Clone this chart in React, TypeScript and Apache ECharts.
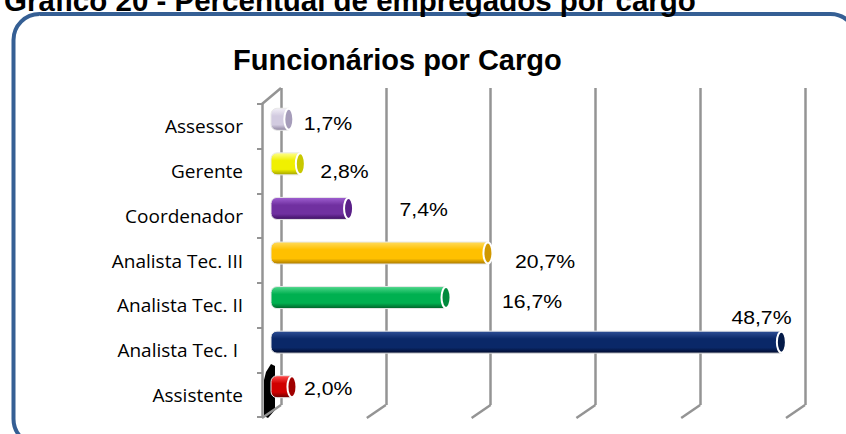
import React, { useEffect, useRef } from "react";
import * as echarts from "echarts";

const heading = "Gráfico 20 - Percentual de empregados por cargo";
const chartTitle = "Funcionários por Cargo";
const categories = [
  "Assessor",
  "Gerente",
  "Coordenador",
  "Analista Tec. III",
  "Analista Tec. II",
  "Analista Tec. I ",
  "Assistente",
];
const values = [1.7, 2.8, 7.4, 20.7, 16.7, 48.7, 2.0];
const gridTicks = [0, 10, 20, 30, 40, 50];
// [light, base, dark, cap]
const palette = [
  ["#f2eff7", "#d2cbe0", "#8d849e", "#a69dba"],
  ["#ffff90", "#f0f000", "#a0a000", "#c8c800"],
  ["#a060d2", "#7030a0", "#3c0e60", "#5a2088"],
  ["#ffdc60", "#ffc000", "#a87800", "#d09800"],
  ["#50d88c", "#00b050", "#006028", "#008a3c"],
  ["#2e4f96", "#0a2868", "#000a2c", "#041a48"],
  ["#ff5050", "#d00000", "#6a0000", "#a00000"],
];
const labelOffsets = [
  [15, 4],
  [20, 8],
  [51, 1],
  [27, 8],
  [56, 4],
  [-50, -25],
  [12, 2],
];

const fmt = (v: number) => v.toFixed(1).replace(".", ",") + "%";

export default function App() {
  const ref = useRef<HTMLDivElement>(null);
  useEffect(() => {
    if (!ref.current) return;
    const chart = echarts.init(ref.current, null, { renderer: "svg" });
    const option: any = {
      animation: false,
      backgroundColor: "#ffffff",
      title: {
        text: chartTitle,
        left: 228,
        top: 40,
        textStyle: {
          fontFamily: '"Liberation Sans", Arial, sans-serif',
          fontWeight: "bold",
          fontSize: 29,
          color: "#000",
        },
      },
      graphic: [
        {
          type: "rect",
          z: -10,
          shape: { x: 13.5, y: 14, width: 843, height: 431, r: 26 },
          style: { fill: "none", stroke: "#355f94", lineWidth: 4 },
        },
        {
          type: "text",
          x: 4,
          y: 0,
          style: {
            text: heading,
            fill: "#000",
            font: 'bold 29.5px "Liberation Sans", Arial, sans-serif',
            verticalAlign: "middle",
          },
        },
        {
          type: "polygon",
          z: 1,
          shape: {
            points: [
              [266, 372],
              [271, 364],
              [275, 366],
              [275, 410],
              [268, 418],
              [264, 416],
              [264, 380],
            ],
          },
          style: { fill: "#000" },
        },
      ],
      grid: [
        { left: 281, width: 524, top: 88, bottom: 29 },
        { left: 262, width: 524, top: 104, bottom: 17 },
        { left: 271, width: 524, top: 97, bottom: 25 },
      ],
      xAxis: [
        {
          gridIndex: 0,
          type: "value",
          min: 0,
          max: 50,
          interval: 10,
          axisLabel: { show: false },
          axisLine: { show: false },
          axisTick: { show: false },
          splitLine: { show: true, lineStyle: { color: "#949494", width: 2.5 } },
        },
        {
          gridIndex: 1,
          type: "value",
          min: 0,
          max: 50,
          interval: 10,
          show: false,
        },
        {
          gridIndex: 2,
          type: "value",
          min: 0,
          max: 50,
          interval: 10,
          show: false,
        },
      ],
      yAxis: [
        {
          gridIndex: 0,
          type: "category",
          data: categories,
          inverse: true,
          show: false,
        },
        {
          gridIndex: 1,
          type: "category",
          data: categories,
          inverse: true,
          axisLine: { show: true, lineStyle: { color: "#949494", width: 2.5 } },
          axisTick: { show: true, length: 5, lineStyle: { color: "#949494", width: 2 } },
          axisLabel: {
            color: "#000",
            fontFamily: '"Open Sans", sans-serif',
            fontSize: 19,
            margin: 19,
            padding: [14, 0, 0, 0],
          },
          splitLine: { show: false },
        },
        {
          gridIndex: 2,
          type: "category",
          data: categories,
          inverse: true,
          show: false,
        },
      ],
      series: [
        {
          type: "custom",
          xAxisIndex: 0,
          yAxisIndex: 0,
          data: gridTicks.map((t) => [t, 0]),
          renderItem: (params: any, api: any) => {
            const v = api.value(0);
            const p = api.coord([v, 0]);
            const cs = params.coordSys;
            const bottom = cs.y + cs.height;
            const top = cs.y;
            const children: any[] = [
              {
                type: "line",
                shape: { x1: p[0], y1: bottom, x2: p[0] - 19, y2: bottom + 13 },
                style: { stroke: "#949494", lineWidth: 2.5 },
              },
            ];
            if (v === 0) {
              children.push({
                type: "line",
                shape: { x1: p[0], y1: top, x2: p[0] - 19, y2: top + 16 },
                style: { stroke: "#949494", lineWidth: 2.5 },
              });
            }
            return { type: "group", children };
          },
        },
        {
          type: "custom",
          xAxisIndex: 2,
          yAxisIndex: 2,
          z: 5,
          data: values.map((v, i) => [v, i]),
          renderItem: (params: any, api: any) => {
            const v = api.value(0);
            const idx = api.value(1);
            const start = api.coord([0, idx]);
            const end = api.coord([v, idx]);
            const h = 22;
            const cy = start[1];
            const c = palette[params.dataIndex];
            const off = labelOffsets[params.dataIndex];
            const grad = new echarts.graphic.LinearGradient(0, 0, 0, 1, [
              { offset: 0, color: c[0] },
              { offset: 0.35, color: c[1] },
              { offset: 0.75, color: c[1] },
              { offset: 1, color: c[2] },
            ]);
            return {
              type: "group",
              children: [
                {
                  type: "rect",
                  shape: {
                    x: start[0],
                    y: cy - h / 2,
                    width: Math.max(end[0] - start[0], 1),
                    height: h,
                    r: [6, 0, 0, 6],
                  },
                  style: { fill: grad, stroke: "#e8e8e8", lineWidth: 1 },
                },
                {
                  type: "ellipse",
                  shape: { cx: end[0], cy, rx: 4.5, ry: h / 2 - 0.5 },
                  style: { fill: c[3], stroke: "#ffffff", lineWidth: 2 },
                },
                {
                  type: "text",
                  x: end[0] + off[0],
                  y: cy + off[1],
                  scaleX: 1.14,
                  style: {
                    text: fmt(v),
                    fill: "#000",
                    font: '18.6px "Liberation Sans", Arial, sans-serif',
                    verticalAlign: "middle",
                    align: "left",
                  },
                },
              ],
            };
          },
        },
      ],
    };
    chart.setOption(option);
    return () => chart.dispose();
  }, []);
  return (
    <div
      ref={ref}
      style={{ position: "fixed", left: 0, top: 0, width: 846, height: 434 }}
    />
  );
}
